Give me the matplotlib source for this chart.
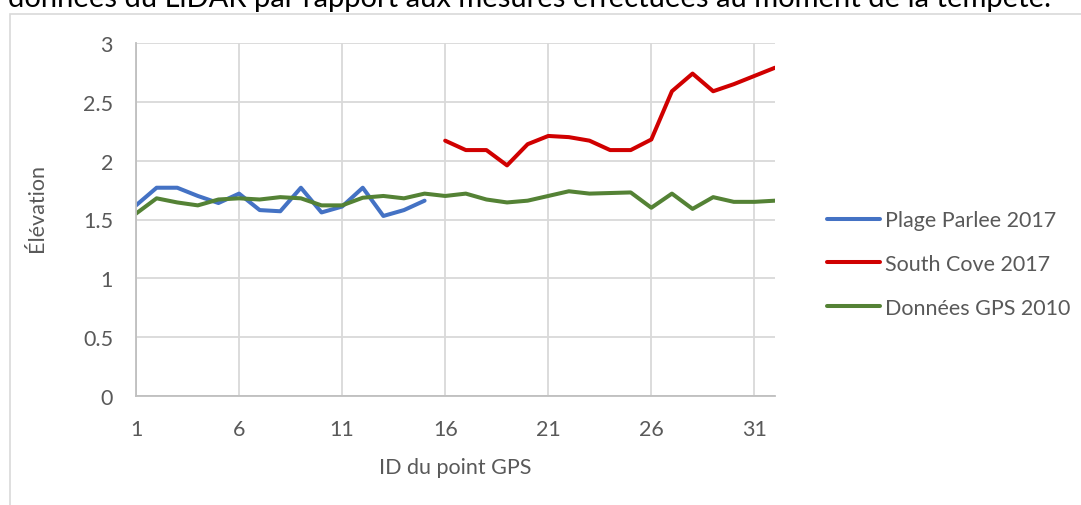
import matplotlib
matplotlib.use('Agg')
import matplotlib.pyplot as plt
from matplotlib.patches import Rectangle
import numpy as np

# Données
ids_parlee = list(range(1, 16))
plage_parlee = [1.62, 1.77, 1.77, 1.70, 1.64, 1.72, 1.58, 1.57, 1.77, 1.56,
                1.61, 1.77, 1.53, 1.58, 1.66]

ids_cove = list(range(16, 33))
south_cove = [2.17, 2.09, 2.09, 1.96, 2.14, 2.21, 2.20, 2.17, 2.09, 2.09,
              2.18, 2.59, 2.74, 2.59, 2.65, 2.72, 2.79]

ids_gps = list(range(1, 33))
gps_2010 = [1.55, 1.68, 1.645, 1.62, 1.67, 1.68, 1.67, 1.69, 1.68, 1.62,
            1.62, 1.685, 1.70, 1.68, 1.72, 1.70, 1.72, 1.67, 1.645, 1.66,
            1.70, 1.74, 1.72, 1.725, 1.73, 1.60, 1.72, 1.59, 1.69, 1.65,
            1.65, 1.66]

x_ticks = [1, 6, 11, 16, 21, 26, 31]
y_ticks = [0, 0.5, 1, 1.5, 2, 2.5, 3]
y_labels = ['0', '0.5', '1', '1.5', '2', '2.5', '3']

titre = "données du LiDAR par rapport aux mesures effectuées au moment de la tempête."

plt.rcParams['font.family'] = ['Lato', 'DejaVu Sans']

fig = plt.figure(figsize=(10.81, 5.06), dpi=100)
ax = fig.add_axes([136 / 1081, 1 - 397 / 506, (775 - 136) / 1081, (397 - 44) / 506])

# cadre du graphique
fig.patches.append(Rectangle((10 / 1081, -0.1), 1.2, 1 - 15 / 506 + 0.1,
                             transform=fig.transFigure, fill=False,
                             edgecolor='#d9d9d9', linewidth=1.2))

# titre coupé en haut
fig.text(529 / 1081, 1 - 7 / 506, titre, ha='center', va='baseline',
         fontsize=21, color='black')

kw = dict(linewidth=2.9, solid_joinstyle='round', solid_capstyle='round')
ax.plot(ids_parlee, plage_parlee, color='#4472C4', label='Plage Parlee 2017', **kw)
ax.plot(ids_cove, south_cove, color='#D00000', label='South Cove 2017', **kw)
ax.plot(ids_gps, gps_2010, color='#548235', label='Données GPS 2010', **kw)

ax.set_xlim(1, 32)
ax.set_ylim(0, 3)
ax.set_xticks(x_ticks)
ax.set_yticks(y_ticks)
ax.set_yticklabels(y_labels)
ax.grid(True, color='#d9d9d9', linewidth=1.3)
ax.set_axisbelow(True)
for s in ['top', 'right']:
    ax.spines[s].set_visible(False)
for s in ['left', 'bottom']:
    ax.spines[s].set_color('#bfbfbf')
    ax.spines[s].set_linewidth(1.3)
ax.tick_params(length=0, labelsize=15.5, colors='#595959', pad=16.5)

ax.set_xlabel('ID du point GPS', fontsize=15.5, color='#595959')
ax.set_ylabel('Élévation', fontsize=15.5, color='#595959')
ax.xaxis.set_label_coords((455 - 136) / 639, (397 - 468) / 353)
ax.xaxis.label.set_va('center')
ax.yaxis.set_label_coords((37 - 136) / 639, (397 - 208) / 353)
ax.yaxis.label.set_va('center')

ax.legend(loc='center left', bbox_to_anchor=((827 - 136) / 639, (397 - 265) / 353),
          frameon=False, fontsize=15.5, labelcolor='#595959', handlelength=2.45,
          handletextpad=0.25, labelspacing=1.1, borderaxespad=0, borderpad=0)

fig.savefig('out.png', dpi=100)
